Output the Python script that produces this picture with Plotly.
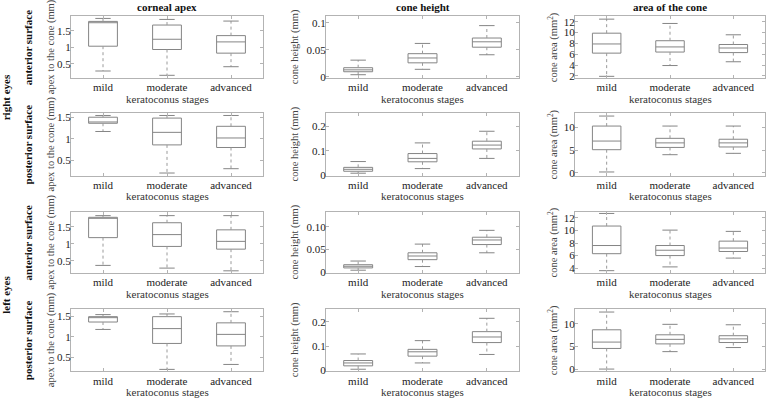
import plotly.graph_objects as go

categories = ['mild', 'moderate', 'advanced']
col_titles = ['corneal apex', 'cone height', 'area of the cone']
y_titles = ['apex to the cone (mm)', 'cone height (mm)', 'cone area (mm<sup>2</sup>)']
row_labels = ['anterior surface', 'posterior surface', 'anterior surface', 'posterior surface']
group_labels = ['right eyes', 'left eyes']
x_title = 'keratoconus stages'

# each stage: [min, q1, median, q3, max]
right_ant_apex = [[0.28, 1.03, 1.74, 1.78, 1.87], [0.15, 0.93, 1.24, 1.67, 1.84], [0.41, 0.82, 1.16, 1.35, 1.79]]
right_ant_height = [[0.004, 0.0095, 0.013, 0.017, 0.031], [0.014, 0.026, 0.035, 0.043, 0.062], [0.041, 0.055, 0.065, 0.072, 0.095]]
right_ant_area = [[1.9, 6.2, 7.9, 9.9, 12.5], [3.9, 6.4, 7.35, 8.5, 11.7], [4.6, 6.3, 7.15, 7.8, 9.6]]
right_post_apex = [[1.17, 1.36, 1.39, 1.50, 1.54], [0.21, 0.86, 1.15, 1.48, 1.54], [0.31, 0.80, 1.02, 1.29, 1.54]]
right_post_height = [[0.007, 0.015, 0.023, 0.031, 0.055], [0.026, 0.054, 0.068, 0.088, 0.132], [0.068, 0.107, 0.123, 0.139, 0.18]]
right_post_area = [[0.2, 5.1, 7.0, 10.3, 12.5], [4.0, 5.6, 6.6, 7.6, 10.3], [4.3, 5.7, 6.6, 7.4, 10.3]]
left_ant_apex = [[0.36, 1.18, 1.76, 1.78, 1.83], [0.28, 0.92, 1.27, 1.62, 1.83], [0.20, 0.84, 1.07, 1.41, 1.83]]
left_ant_height = [[0.005, 0.010, 0.0136, 0.017, 0.025], [0.013, 0.028, 0.036, 0.043, 0.062], [0.043, 0.061, 0.071, 0.077, 0.092]]
left_ant_area = [[3.6, 6.3, 7.6, 10.7, 12.7], [4.2, 6.0, 6.85, 7.6, 10.05], [5.6, 6.65, 7.2, 8.3, 9.85]]
left_post_apex = [[1.18, 1.36, 1.47, 1.49, 1.54], [0.21, 0.84, 1.20, 1.49, 1.556], [0.33, 0.78, 1.06, 1.34, 1.61]]
left_post_height = [[0.005, 0.019, 0.031, 0.041, 0.068], [0.031, 0.059, 0.077, 0.087, 0.123], [0.066, 0.115, 0.138, 0.16, 0.215]]
left_post_area = [[0.07, 4.6, 6.0, 8.7, 12.6], [3.9, 5.6, 6.6, 7.6, 9.9], [4.8, 5.9, 6.7, 7.4, 9.8]]

# y tick labels per panel
apex_ticks = [0.5, 1, 1.5]
apex_ticktext = ['0.5', '1', '1.5']
height_ticks_a = [0, 0.05, 0.1]
height_ticktext_a = ['0', '0.05', '0.1']
height_ticktext_b = ['0', '0.05', '0.10']
height_ticks_p = [0, 0.1, 0.2]
height_ticktext_p = ['0', '0.1', '0.2']
area_ticks_a = [2, 4, 6, 8, 10, 12]
area_ticks_b = [4, 6, 8, 10, 12]
area_ticks_p = [0, 5, 10]

panels = [
    [right_ant_apex, right_ant_height, right_ant_area],
    [right_post_apex, right_post_height, right_post_area],
    [left_ant_apex, left_ant_height, left_ant_area],
    [left_post_apex, left_post_height, left_post_area],
]
yticks = [
    [(apex_ticks, apex_ticktext), (height_ticks_a, height_ticktext_a), (area_ticks_a, [str(v) for v in area_ticks_a])],
    [(apex_ticks, apex_ticktext), (height_ticks_p, height_ticktext_p), (area_ticks_p, [str(v) for v in area_ticks_p])],
    [(apex_ticks, apex_ticktext), (height_ticks_a, height_ticktext_b), (area_ticks_b, [str(v) for v in area_ticks_b])],
    [(apex_ticks, apex_ticktext), (height_ticks_p, height_ticktext_p), (area_ticks_p, [str(v) for v in area_ticks_p])],
]
yranges = [
    [[0.07, 1.93], [-0.002, 0.112], [1.6, 13.0]],
    [[0.15, 1.59], [-0.003, 0.254], [-0.6, 13.1]],
    [[0.13, 1.95], [-0.0015, 0.133], [3.2, 13.0]],
    [[0.16, 1.68], [-0.004, 0.254], [-0.45, 13.3]],
]

W, H = 767, 401
col_px = [(71, 263), (326, 519), (575, 765)]
row_px = [(14.7, 77.3), (113.3, 176.7), (213.3, 276), (312.3, 376)]
FONT = 'Liberation Serif, Tinos, Times New Roman, DejaVu Serif, serif'
BOX_C = '#858585'
FRAME_C = '#b3b3b3'
WHISK_C = '#9a9a9a'
cap = 0.12

fig = go.Figure()
layout = {}
k = 0
for r in range(4):
    for c in range(3):
        k += 1
        xa = 'x' if k == 1 else f'x{k}'
        ya = 'y' if k == 1 else f'y{k}'
        data = panels[r][c]
        xs = list(range(len(categories)))
        mins = [d[0] for d in data]
        q1s = [d[1] for d in data]
        meds = [d[2] for d in data]
        q3s = [d[3] for d in data]
        maxs = [d[4] for d in data]
        # dotted whiskers
        wx, wy = [], []
        for i in xs:
            wx += [i, i, None, i, i, None]
            wy += [q3s[i], maxs[i], None, q1s[i], mins[i], None]
        fig.add_trace(go.Scatter(x=wx, y=wy, mode='lines', xaxis=xa, yaxis=ya,
                                 line=dict(color=WHISK_C, width=1, dash='dot'),
                                 showlegend=False, hoverinfo='skip'))
        # caps
        cx, cy = [], []
        for i in xs:
            cx += [i - cap, i + cap, None, i - cap, i + cap, None]
            cy += [maxs[i], maxs[i], None, mins[i], mins[i], None]
        fig.add_trace(go.Scatter(x=cx, y=cy, mode='lines', xaxis=xa, yaxis=ya,
                                 line=dict(color=BOX_C, width=1),
                                 showlegend=False, hoverinfo='skip'))
        # boxes
        fig.add_trace(go.Box(x=xs, q1=q1s, median=meds, q3=q3s,
                             lowerfence=q1s, upperfence=q3s,
                             width=0.45, whiskerwidth=0, boxpoints=False,
                             fillcolor='rgba(255,255,255,0)',
                             line=dict(color=BOX_C, width=1),
                             xaxis=xa, yaxis=ya, showlegend=False, hoverinfo='skip'))
        x0, x1 = col_px[c]
        y0, y1 = row_px[r]
        common = dict(showgrid=False, zeroline=False, showline=True, linecolor=FRAME_C,
                      linewidth=1, mirror='allticks', ticks='inside', ticklen=3,
                      tickcolor=FRAME_C, tickfont=dict(family=FONT, size=11, color='#222'))
        layout['xaxis' if k == 1 else f'xaxis{k}'] = dict(
            domain=[x0 / W, x1 / W], anchor=ya, range=[-0.5, 2.5],
            tickvals=xs, ticktext=categories, ticklabelstandoff=-1, **common)
        tv, tt = yticks[r][c]
        layout['yaxis' if k == 1 else f'yaxis{k}'] = dict(
            domain=[1 - y1 / H, 1 - y0 / H], anchor=xa, range=yranges[r][c],
            tickvals=tv, ticktext=tt, ticklabelstandoff=-3, **common)

ann = []
title_font = dict(family=FONT, size=11, color='#111')
for c in range(3):
    x0, x1 = col_px[c]
    ann.append(dict(text=f'<b>{col_titles[c]}</b>', x=(x0 + x1) / 2 / W, y=1 - 5.5 / H,
                    xref='paper', yref='paper', showarrow=False, font=title_font,
                    xanchor='center', yanchor='middle'))
ytitle_x = [51, 295, 553]
for r in range(4):
    y0, y1 = row_px[r]
    ym = 1 - (y0 + y1) / 2 / H
    for c in range(3):
        ann.append(dict(text=y_titles[c], x=ytitle_x[c] / W, y=ym, xref='paper', yref='paper',
                        showarrow=False, textangle=-90, xanchor='center', yanchor='middle',
                        font=dict(family=FONT, size=10.5, color='#444')))
        x0, x1 = col_px[c]
        ann.append(dict(text=x_title, x=(x0 + x1) / 2 / W, y=1 - (y1 + 21) / H,
                        xref='paper', yref='paper', showarrow=False,
                        xanchor='center', yanchor='middle',
                        font=dict(family=FONT, size=11, color='#333')))
    ann.append(dict(text=f'<b>{row_labels[r]}</b>', x=28 / W, y=ym, xref='paper', yref='paper',
                    showarrow=False, textangle=-90, xanchor='center', yanchor='middle',
                    font=title_font))
for g, yc in zip(group_labels, [97, 298]):
    ann.append(dict(text=f'<b>{g}</b>', x=6 / W, y=1 - yc / H, xref='paper', yref='paper',
                    showarrow=False, textangle=-90, xanchor='center', yanchor='middle',
                    font=title_font))

fig.update_layout(width=W, height=H, margin=dict(l=0, r=0, t=0, b=0),
                  plot_bgcolor='white', paper_bgcolor='white', annotations=ann,
                  showlegend=False, **layout)
fig.write_html('out.html', config={'displayModeBar': False},
               post_script="document.body.style.margin='0';document.body.style.padding='0';"
                           "document.body.style.overflow='hidden';")
